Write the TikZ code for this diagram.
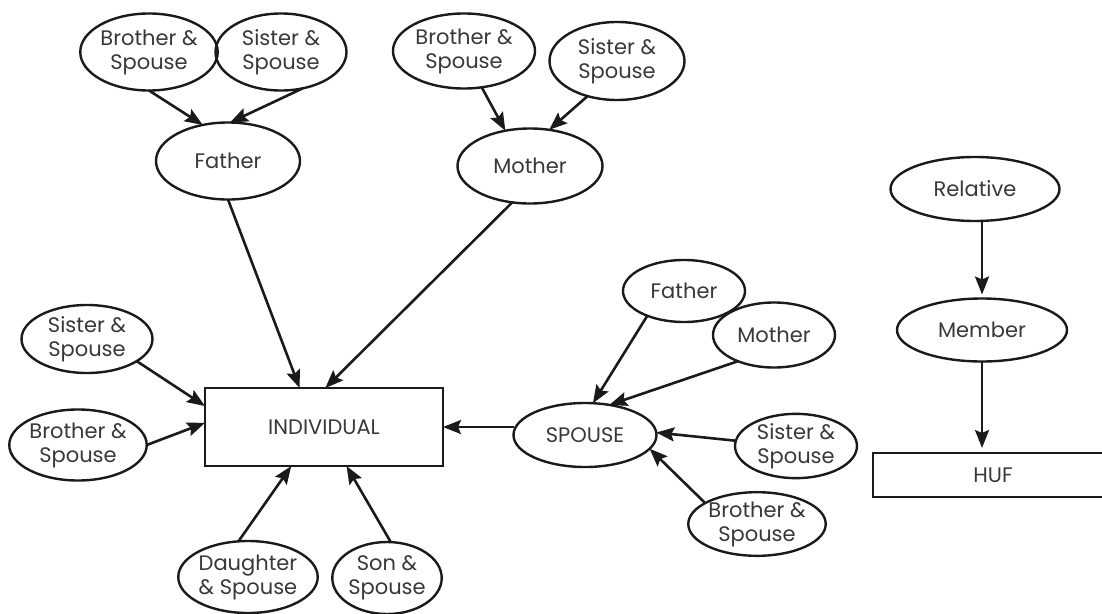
\documentclass[tikz,border=0pt]{standalone}
\usepackage{fontspec}
\setmainfont{Poppins}
\usetikzlibrary{shapes.geometric,arrows.meta}
\definecolor{ink}{HTML}{1A1A1A}
\definecolor{txt}{HTML}{383838}
\tikzset{
  oval/.style={ellipse, draw=ink, line width=2.4pt, inner sep=0pt, outer sep=0pt,
    align=center, text=txt, font=\fontsize{21}{24}\selectfont},
  sz/.style 2 args={minimum width=#1pt, minimum height=#2pt},
  boxnode/.style={rectangle, draw=ink, line width=2.8pt, inner sep=0pt, outer sep=0pt,
    text=txt, font=\fontsize{21}{24}\selectfont},
  link/.style={draw=ink, line width=2.6pt, -{Stealth[length=18pt,width=14pt,inset=3pt]}},
}
\begin{document}
\begin{tikzpicture}[x=1pt,y=-1pt]
\useasboundingbox (0,0) rectangle (1102,613);
\clip (0,0) rectangle (1102,613);

% father's side
\node[oval, sz={132}{77}] (bsA) at (149,52) {Brother \&\\Spouse};
\node[oval, sz={131}{77}] (ssA) at (281,52) {Sister \&\\Spouse};
\node[oval, sz={144}{77}] (faA) at (228,161) {Father};

% mother's side
\node[oval, sz={142}{75}] (bsB) at (464,51) {Brother \&\\Spouse};
\node[oval, sz={135}{78}] (ssB) at (617,61) {Sister \&\\Spouse};
\node[oval, sz={145}{75}] (moA) at (530,166) {Mother};

% the individual and own relations
\node[boxnode, minimum width=238pt, minimum height=78pt] (ind) at (324,427) {INDIVIDUAL};
\node[oval, sz={131}{68}] (ssC) at (87,339) {Sister \&\\Spouse};
\node[oval, sz={137}{71}] (bsC) at (78,445) {Brother \&\\Spouse};
\node[oval, sz={137}{72}] (dau) at (248,577) {Daughter\\\& Spouse};
\node[oval, sz={106}{72}] (son) at (387,578) {Son \&\\Spouse};

% spouse's relations
\node[oval, sz={122}{62}] (faB) at (684,291) {Father};
\node[oval, sz={122}{65}] (moB) at (774,335) {Mother};
\node[oval, sz={143}{64}] (sp) at (585,435) {SPOUSE};
\node[oval, sz={122}{64}] (ssD) at (796,446) {Sister \&\\Spouse};
\node[oval, sz={121}{63}] (bsD) at (757,524) {Brother \&\\Spouse};

% HUF chain
\node[oval, sz={169}{64}] (rel) at (975,189) {Relative};
\node[oval, sz={170}{63}] (mem) at (982,330) {Member};
\node[boxnode, minimum width=240pt, minimum height=44pt, anchor=west] (huf) at (873,475)
  {\makebox[216pt]{HUF}\hspace{24pt}};

% connectors
\draw[link] (bsA.south) -- (faA.125);
\draw[link] (ssA.-59) -- (faA.87);
\draw[link] (bsB.-64) -- (moA.125);
\draw[link] (ssB.230) -- (moA.62);
\draw[link] (faA.south) -- (ind.122);
\draw[link] (moA.244) -- (ind.88);
\draw[link] (ssC.-24) -- (ind.170);
\draw[link] (bsC.east) -- (ind.178);
\draw[link] (dau.105) -- (ind.230);
\draw[link] (son.84) -- (ind.300);
\draw[link] (sp.west |- ind.east) -- (ind.east);
\draw[link] (faB.214) -- (sp.76);
\draw[link] (moB.216) -- (sp.51);
\draw[link] (ssD.175) -- (sp.2);
\draw[link] (bsD.158) -- (sp.-12);
\draw[link, shorten >=4pt] (mem.north |- rel.south) -- (mem.north);
\draw[link, shorten >=5pt] (mem.south) -- (mem.south |- huf.north);
\end{tikzpicture}
\end{document}
